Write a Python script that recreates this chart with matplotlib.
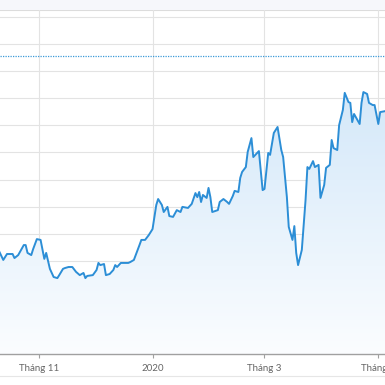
import matplotlib
matplotlib.use("Agg")
import matplotlib.pyplot as plt
import matplotlib.dates as mdates
import numpy as np
import pandas as pd
from matplotlib.patches import Polygon

dates = ["2019-10-11","2019-10-13","2019-10-15","2019-10-18","2019-10-19","2019-10-21","2019-10-24","2019-10-25",
         "2019-10-26","2019-10-28","2019-10-29","2019-10-31","2019-11-02","2019-11-03","2019-11-04","2019-11-05",
         "2019-11-07","2019-11-09","2019-11-11","2019-11-12","2019-11-14","2019-11-15","2019-11-17","2019-11-19",
         "2019-11-21","2019-11-23","2019-11-25","2019-11-26","2019-11-27","2019-11-30","2019-12-02","2019-12-03",
         "2019-12-04","2019-12-06","2019-12-07","2019-12-09","2019-12-11","2019-12-12","2019-12-13","2019-12-15",
         "2019-12-17","2019-12-19","2019-12-20","2019-12-22","2019-12-23","2019-12-25","2019-12-26","2019-12-28",
         "2019-12-30","2020-01-01","2020-01-02","2020-01-03","2020-01-04","2020-01-06","2020-01-07","2020-01-09",
         "2020-01-10","2020-01-12","2020-01-14","2020-01-16","2020-01-17","2020-01-20","2020-01-22","2020-01-24",
         "2020-01-25","2020-01-26","2020-01-27","2020-01-28","2020-01-30","2020-01-31","2020-02-01","2020-02-02",
         "2020-02-05","2020-02-06","2020-02-08","2020-02-10","2020-02-11","2020-02-13","2020-02-14","2020-02-16",
         "2020-02-17","2020-02-18","2020-02-20","2020-02-21","2020-02-23","2020-02-24","2020-02-26","2020-02-27",
         "2020-02-29","2020-03-01","2020-03-03","2020-03-04","2020-03-06","2020-03-08","2020-03-10","2020-03-11",
         "2020-03-13","2020-03-14","2020-03-16","2020-03-17","2020-03-18","2020-03-19","2020-03-21","2020-03-23",
         "2020-03-24","2020-03-25","2020-03-27","2020-03-28","2020-03-30","2020-03-31","2020-04-02","2020-04-03",
         "2020-04-05","2020-04-06","2020-04-07","2020-04-09","2020-04-10","2020-04-12","2020-04-13","2020-04-15",
         "2020-04-16","2020-04-17","2020-04-18","2020-04-21","2020-04-22","2020-04-23","2020-04-25","2020-04-26",
         "2020-04-28","2020-04-29","2020-05-01","2020-05-02","2020-05-05"]
values = [43.2,40.3,42.5,42.5,41.0,42.1,45.8,45.8,
          42.9,42.1,44.3,48.0,47.7,44.3,40.7,42.9,
          37.0,34.0,33.6,34.7,37.0,37.3,37.7,37.7,
          35.9,34.7,35.5,33.6,34.4,34.7,36.6,39.2,
          38.4,38.8,34.7,35.1,36.6,38.4,37.7,39.2,
          39.2,39.2,39.5,40.3,42.1,45.8,47.7,47.7,
          49.5,51.7,56.2,60.6,62.8,60.6,58.0,59.9,
          56.5,56.2,58.7,58.0,59.9,59.5,61.0,65.0,
          63.5,65.4,61.7,64.3,63.2,66.9,63.5,58.0,
          58.7,61.7,62.8,61.7,61.0,63.9,65.8,65.4,
          70.6,72.8,74.6,80.2,85.3,78.3,79.8,80.5,
          66.1,66.5,79.8,79.1,87.2,89.4,80.9,78.3,
          63.5,52.5,47.7,52.8,42.9,38.4,44.0,62.4,
          74.6,73.9,76.8,74.6,75.4,63.2,68.0,74.3,
          75.4,84.6,81.6,80.9,90.1,95.7,102.0,98.6,
          98.3,91.2,94.2,90.5,98.3,102.3,101.6,98.3,
          97.5,97.5,90.5,94.9,95.3]
reference_level = 115.6
grid_levels = [10, 20, 30, 40, 50, 60, 70, 80, 90, 100, 110, 120, 130]
tick_dates = ["2019-11-01", "2020-01-01", "2020-03-01", "2020-05-01"]
tick_labels = ["Tháng 11", "2020", "Tháng 3", "Tháng 5"]

x = mdates.date2num(pd.to_datetime(dates))
y = np.array(values)

fig = plt.figure(figsize=(3.85, 3.85), dpi=100)
fig.patch.set_facecolor("white")
# top light strip
fig.patches.append(plt.Rectangle((0, 1 - 10/385), 1, 10/385, transform=fig.transFigure,
                                 facecolor="#f6f7fb", edgecolor="none", zorder=0))
ax = fig.add_axes([0, 31/385, 1, 344/385])
ax.set_facecolor("white")
ymin, ymax = 5.57, 132.6
xmin = mdates.date2num(pd.Timestamp("2019-10-11 06:00"))
xmax = mdates.date2num(pd.Timestamp("2020-05-04 14:00"))
ax.set_xlim(xmin, xmax)
ax.set_ylim(ymin, ymax)

for g in grid_levels:
    ax.axhline(g, color="#e3e3e3", lw=0.8, zorder=1)
ax.axhline(ymax, color="#dcdcdc", lw=0.8, zorder=1)
tx = mdates.date2num(pd.to_datetime(tick_dates))
for t in tx:
    ax.axvline(t, color="#e3e3e3", lw=0.8, zorder=1)

# gradient fill under the line
grad = np.linspace(0, 1, 256).reshape(-1, 1)
from matplotlib.colors import LinearSegmentedColormap
cmap = LinearSegmentedColormap.from_list("g", ["#fbfdff", "#d4e8f9"])
top_val = y.max()
im = ax.imshow(grad, extent=[xmin, xmax, ymin, top_val], origin="lower", cmap=cmap,
               aspect="auto", zorder=2)
verts = np.column_stack([np.concatenate([[x[0]], x, [x[-1]]]),
                         np.concatenate([[ymin], y, [ymin]])])
poly = Polygon(verts, closed=True, transform=ax.transData, facecolor="none", edgecolor="none")
ax.add_patch(poly)
im.set_clip_path(poly)
ax.set_xlim(xmin, xmax)
ax.set_ylim(ymin, ymax)

ax.plot(x, y, color="#2c8ed6", lw=1.4, zorder=4, solid_joinstyle="round")
ax.axhline(reference_level, color="#3d9ad8", lw=0.9, ls=(0, (1, 1)), zorder=3)

for s in ["top", "left", "right"]:
    ax.spines[s].set_visible(False)
ax.spines["bottom"].set_color("#a0a0a0")
ax.spines["bottom"].set_linewidth(1.0)
ax.set_yticks([])
ax.set_xticks(tx)
ax.set_xticklabels(tick_labels, fontsize=7, color="#666666", family=["Lato", "DejaVu Sans"])
ax.tick_params(axis="x", length=3, color="#a0a0a0", width=0.8, pad=4)

fig.add_artist(plt.Line2D([0, 1], [1 - 376/385, 1 - 376/385], transform=fig.transFigure,
                          color="#e6e6e6", lw=0.8))

fig.savefig("out.png", dpi=100, facecolor="white")
